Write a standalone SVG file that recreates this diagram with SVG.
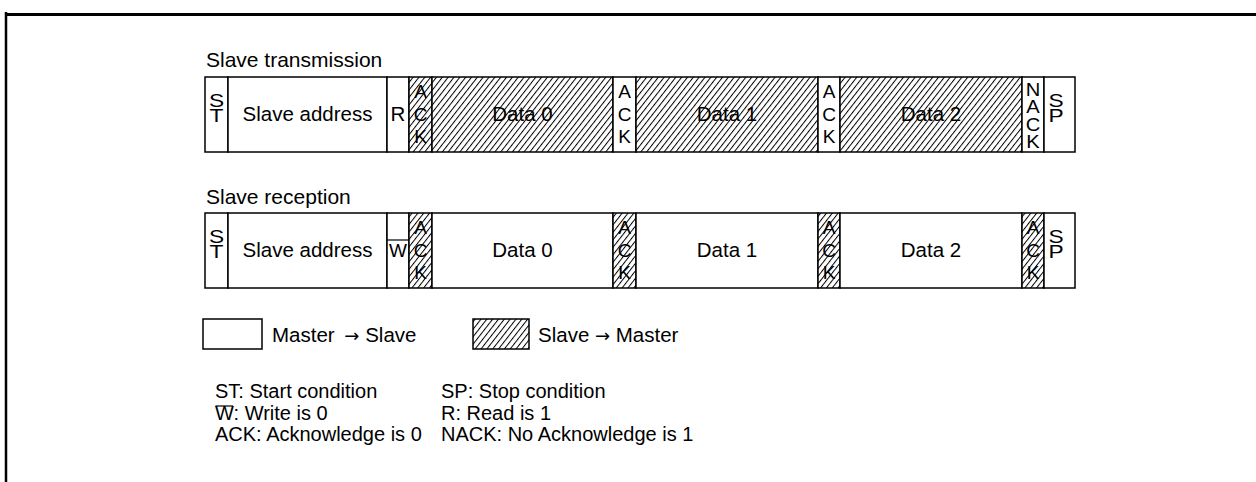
<svg xmlns="http://www.w3.org/2000/svg" width="1256" height="482" viewBox="0 0 1256 482">
<style>
text{font-family:"Liberation Sans",Arial,sans-serif;font-size:20.5px;fill:#000}
.m{text-anchor:middle}
.s{font-size:17.5px}
.v{font-size:19px}
.t{font-size:21px}
.n{font-size:20px}
.a{font-family:"DejaVu Sans",sans-serif;font-size:18px}
.c{fill:#fff;stroke:#000;stroke-width:1.5}
.h{fill:url(#hatch);stroke:#000;stroke-width:1.5}
.f{stroke:#000;fill:none}
</style>
<defs>
<pattern id="hatch" width="4.6" height="12" patternUnits="userSpaceOnUse" patternTransform="rotate(38)">
<rect width="4.6" height="12" fill="#fff"/>
<line x1="0.5" y1="0" x2="0.5" y2="12" stroke="#000" stroke-width="1"/>
</pattern>
</defs>
<g id="frame">
<line class="f" x1="5" y1="14.5" x2="1256" y2="14.5" stroke-width="3"/>
<line class="f" x1="6" y1="12" x2="6" y2="482" stroke-width="2.5"/>
</g>
<text class="t" x="206" y="67">Slave transmission</text>
<text class="t" x="206" y="204">Slave reception</text>
<g id="tx">
<g id="tx-st"><rect class="c" x="205" y="77" width="23" height="75"/><text class="m s" transform="translate(216.5 0) scale(1.3 1)"><tspan x="0" y="107.5">S</tspan><tspan x="0" y="122.5">T</tspan></text></g>
<g id="tx-addr"><rect class="c" x="228" y="77" width="159" height="75"/><text class="m" x="307.5" y="121">Slave address</text></g>
<g id="tx-r"><rect class="c" x="387" y="77" width="22" height="75"/><text class="m" x="398" y="121">R</text></g>
<g id="tx-ack0"><rect class="h" x="409" y="77" width="23" height="75"/><text class="m v"><tspan x="420.5" y="98">A</tspan><tspan x="420.5" y="121">C</tspan><tspan x="420.5" y="143">K</tspan></text></g>
<g id="tx-d0"><rect class="h" x="432" y="77" width="181" height="75"/><text class="m" x="522.5" y="121">Data 0</text></g>
<g id="tx-ack1"><rect class="c" x="613" y="77" width="23" height="75"/><text class="m v"><tspan x="624.5" y="98">A</tspan><tspan x="624.5" y="121">C</tspan><tspan x="624.5" y="143">K</tspan></text></g>
<g id="tx-d1"><rect class="h" x="636" y="77" width="182" height="75"/><text class="m" x="727" y="121">Data 1</text></g>
<g id="tx-ack2"><rect class="c" x="818" y="77" width="22" height="75"/><text class="m v"><tspan x="829" y="98">A</tspan><tspan x="829" y="121">C</tspan><tspan x="829" y="143">K</tspan></text></g>
<g id="tx-d2"><rect class="h" x="840" y="77" width="182" height="75"/><text class="m" x="931" y="121">Data 2</text></g>
<g id="tx-nack"><rect class="c" x="1022" y="77" width="22" height="75"/><text class="m s" transform="translate(1033 0) scale(1.15 1)"><tspan x="0" y="96">N</tspan><tspan x="0" y="113.5">A</tspan><tspan x="0" y="131">C</tspan><tspan x="0" y="148">K</tspan></text></g>
<g id="tx-sp"><rect class="c" x="1044" y="77" width="31" height="75"/><text class="m s" transform="translate(1056 0) scale(1.3 1)"><tspan x="0" y="107.5">S</tspan><tspan x="0" y="122.5">P</tspan></text></g>
</g>
<g id="rx">
<g id="rx-st"><rect class="c" x="205" y="213" width="23" height="75"/><text class="m s" transform="translate(216.5 0) scale(1.3 1)"><tspan x="0" y="243.5">S</tspan><tspan x="0" y="258.5">T</tspan></text></g>
<g id="rx-addr"><rect class="c" x="228" y="213" width="159" height="75"/><text class="m" x="307.5" y="257">Slave address</text></g>
<g id="rx-w"><rect class="c" x="387" y="213" width="22" height="75"/><line class="f" x1="387" y1="240" x2="409" y2="240" stroke-width="1.2"/><text class="m v" x="398" y="257">W</text></g>
<g id="rx-ack0"><rect class="h" x="409" y="213" width="23" height="75"/><text class="m v"><tspan x="420.5" y="234">A</tspan><tspan x="420.5" y="257">C</tspan><tspan x="420.5" y="279">K</tspan></text></g>
<g id="rx-d0"><rect class="c" x="432" y="213" width="181" height="75"/><text class="m" x="522.5" y="257">Data 0</text></g>
<g id="rx-ack1"><rect class="h" x="613" y="213" width="23" height="75"/><text class="m v"><tspan x="624.5" y="234">A</tspan><tspan x="624.5" y="257">C</tspan><tspan x="624.5" y="279">K</tspan></text></g>
<g id="rx-d1"><rect class="c" x="636" y="213" width="182" height="75"/><text class="m" x="727" y="257">Data 1</text></g>
<g id="rx-ack2"><rect class="h" x="818" y="213" width="22" height="75"/><text class="m v"><tspan x="829" y="234">A</tspan><tspan x="829" y="257">C</tspan><tspan x="829" y="279">K</tspan></text></g>
<g id="rx-d2"><rect class="c" x="840" y="213" width="182" height="75"/><text class="m" x="931" y="257">Data 2</text></g>
<g id="rx-ack3"><rect class="h" x="1022" y="213" width="22" height="75"/><text class="m v"><tspan x="1033" y="234">A</tspan><tspan x="1033" y="257">C</tspan><tspan x="1033" y="279">K</tspan></text></g>
<g id="rx-sp"><rect class="c" x="1044" y="213" width="31" height="75"/><text class="m s" transform="translate(1056 0) scale(1.3 1)"><tspan x="0" y="243.5">S</tspan><tspan x="0" y="258.5">P</tspan></text></g>
</g>
<g id="legend">
<g id="leg-ms"><rect class="c" x="203" y="319" width="59" height="30"/><text x="272" y="342">Master <tspan class="a" dx="4">→</tspan> Slave</text></g>
<g id="leg-sm"><rect class="h" x="473" y="319" width="56" height="30"/><text x="538" y="342">Slave <tspan class="a">→</tspan> Master</text></g>
</g>
<g id="notes">
<text class="n" x="215" y="398">ST: Start condition</text>
<text class="n" x="215" y="420">W: Write is 0</text>
<line class="f" x1="215.5" y1="406" x2="233" y2="406" stroke-width="1.2"/>
<text class="n" x="215" y="441">ACK: Acknowledge is 0</text>
<text class="n" x="441" y="398">SP: Stop condition</text>
<text class="n" x="441" y="420">R: Read is 1</text>
<text class="n" x="441" y="441">NACK: No Acknowledge is 1</text>
</g>
</svg>
